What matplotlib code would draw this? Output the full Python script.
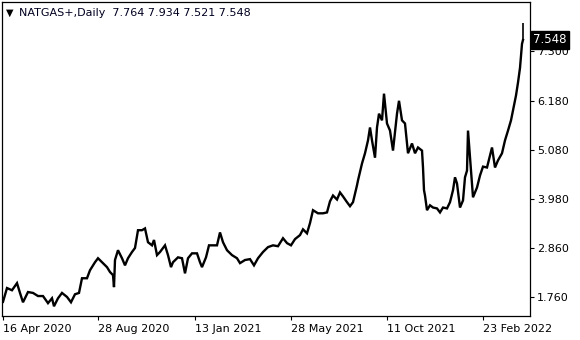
import matplotlib
matplotlib.use('Agg')
import matplotlib.pyplot as plt

# Chart data (bar index, approx. price)
bar_index = [0, 4, 9, 14, 17, 20, 25, 30, 35, 40, 45, 49, 51, 55, 59, 64, 68, 72, 76, 79,
             84, 87, 92, 95, 100, 104, 107, 110, 111, 112, 115, 119, 122, 125, 129, 132, 135, 139, 142, 145,
             149, 151, 154, 157, 162, 165, 168, 170, 175, 179, 182, 185, 189, 194, 197, 199, 203, 206, 210, 214,
             217, 220, 224, 229, 234, 237, 242, 247, 251, 255, 260, 265, 270, 275, 280, 284, 288, 292, 297, 300,
             304, 307, 310, 315, 320, 324, 327, 330, 334, 337, 340, 344, 347, 350, 354, 355, 359, 362, 365, 367,
             369, 372, 374, 376, 379, 381, 384, 387, 390, 394, 396, 399, 402, 405, 409, 412, 415, 419, 420, 421,
             422, 424, 427, 430, 434, 437, 440, 444, 447, 450, 452, 454, 457, 460, 462, 464, 465, 467, 470, 474,
             477, 480, 484, 487, 489, 492, 495, 499, 502, 505, 508, 510, 513, 515, 517, 519, 520]
price = [1.66, 1.97, 1.92, 2.08, 1.86, 1.65, 1.88, 1.86, 1.79, 1.79, 1.63, 1.74, 1.56, 1.74, 1.86, 1.77, 1.65, 1.83, 1.86, 2.19,
         2.19, 2.37, 2.55, 2.64, 2.53, 2.44, 2.33, 2.26, 1.99, 2.60, 2.82, 2.64, 2.48, 2.64, 2.78, 2.87, 3.27, 3.27, 3.31, 3.00,
         2.93, 3.05, 2.71, 2.78, 2.93, 2.71, 2.44, 2.55, 2.66, 2.64, 2.30, 2.64, 2.75, 2.75, 2.55, 2.44, 2.66, 2.93, 2.93, 2.93,
         3.22, 3.00, 2.82, 2.71, 2.64, 2.53, 2.60, 2.62, 2.48, 2.64, 2.78, 2.89, 2.93, 2.91, 3.09, 2.98, 2.93, 3.07, 3.16, 3.29,
         3.20, 3.43, 3.72, 3.65, 3.65, 3.67, 3.92, 4.05, 3.96, 4.12, 4.03, 3.90, 3.81, 3.90, 4.28, 4.39, 4.77, 5.00, 5.29, 5.58,
         5.29, 4.90, 5.58, 5.89, 5.74, 6.34, 5.67, 5.51, 5.06, 5.89, 6.18, 5.74, 5.67, 5.00, 5.22, 5.00, 5.13, 5.06, 4.68, 4.17,
         4.05, 3.72, 3.83, 3.78, 3.76, 3.67, 3.78, 3.76, 3.90, 4.17, 4.46, 4.32, 3.78, 3.94, 4.46, 4.61, 5.51, 4.90, 4.01, 4.23,
         4.50, 4.70, 4.68, 4.95, 5.13, 4.68, 4.84, 5.00, 5.29, 5.51, 5.74, 5.96, 6.30, 6.59, 6.92, 7.46, 7.548]

# Last bar: open, high, low, close
last_ohlc = [7.764, 7.934, 7.521, 7.548]

y_ticks = [1.760, 2.860, 3.980, 5.080, 6.180, 7.300]
x_ticks = [0, 95, 192, 288, 384, 480]
x_labels = ['16 Apr 2020', '28 Aug 2020', '13 Jan 2021', '28 May 2021', '11 Oct 2021', '23 Feb 2022']

fig = plt.figure(figsize=(5.8, 3.4), dpi=100)
ax = fig.add_axes([0.0043, 0.072, 0.9095, 0.922])

ax.plot(bar_index, price, color='black', linewidth=1.7, solid_joinstyle='miter')
ax.vlines(bar_index[-1], last_ohlc[2], last_ohlc[1], color='black', linewidth=1.2)

ax.set_xlim(-0.5, 527)
ax.set_ylim(1.352, 8.40)

ax.yaxis.tick_right()
ax.set_yticks(y_ticks)
ax.set_yticklabels(['%.3f' % t for t in y_ticks], fontsize=8)
ax.set_xticks(x_ticks)
ax.set_xticklabels(x_labels, fontsize=8, ha='left')
ax.tick_params(axis='both', direction='out', length=3, width=0.8, colors='black', pad=2)
ax.tick_params(axis='x', pad=3)
for spine in ax.spines.values():
    spine.set_linewidth(0.9)

# Current price label
ax.text(1.006, last_ohlc[3], '%.3f' % last_ohlc[3], transform=ax.get_yaxis_transform(),
        color='white', fontsize=8.5, ha='left', va='center', zorder=5,
        bbox=dict(boxstyle='square,pad=0.2', facecolor='black', edgecolor='black'))

# Header
fig.text(0.010, 0.962, '\u25bc', fontsize=7, ha='left', va='center', color='black')
fig.text(0.033, 0.962, 'NATGAS+,Daily  %.3f %.3f %.3f %.3f' % tuple(last_ohlc),
         fontsize=8, ha='left', va='center', color='#000020')

fig.savefig('out.png', dpi=100)
